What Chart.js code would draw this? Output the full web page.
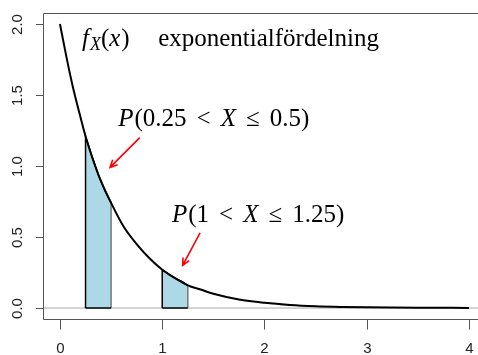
<!DOCTYPE html>
<html>
<head>
<meta charset="utf-8">
<script src="https://cdn.jsdelivr.net/npm/chart.js@4/dist/chart.umd.min.js"></script>
<style>
  html, body { margin: 0; padding: 0; background: #fff; overflow: hidden; }
  canvas { display: block; }
</style>
</head>
<body>
<canvas id="c" width="478" height="355"></canvas>
<script>
// density curve
const curveX = [0, 0.0625, 0.125, 0.1875, 0.25, 0.375, 0.5, 0.625, 0.75, 0.875, 1.0, 1.125, 1.25, 1.375, 1.5, 1.75, 2.0, 2.25, 2.5, 2.75, 3.0, 3.5, 4.0];
const curveY = [2.00, 1.77, 1.56, 1.38, 1.21, 0.94, 0.74, 0.57, 0.45, 0.35, 0.27, 0.21, 0.16, 0.13, 0.10, 0.06, 0.037, 0.022, 0.013, 0.008, 0.005, 0.002, 0.001];

// shaded intervals
const band1X = [0.25, 0.3125, 0.375, 0.4375, 0.5];
const band1Y = [1.21, 1.07, 0.94, 0.83, 0.74];
const band2X = [1.0, 1.0625, 1.125, 1.1875, 1.25];
const band2Y = [0.27, 0.24, 0.21, 0.19, 0.16];

const xTicks = [0, 1, 2, 3, 4];
const yTicks = [0, 0.5, 1, 1.5, 2];
const yTickLabels = ["0.0", "0.5", "1.0", "1.5", "2.0"];

// visible part of the plot region (right edge is cut off in the picture)
const xRange = [-0.166, 4.088];
const yRange = [-0.08, 2.08];

// arrows [fromX, fromY, toX, toY] in data units
const arrows = [[0.78, 1.20, 0.49, 0.99], [1.37, 0.53, 1.20, 0.30]];

const pts = (xs, ys) => xs.map((x, i) => ({ x, y: ys[i] }));
const outline = (xs, ys) => [{ x: xs[0], y: 0 }, ...pts(xs, ys), { x: xs[xs.length - 1], y: 0 }, { x: xs[0], y: 0 }];

const SERIF = '"Liberation Serif", "DejaVu Serif", serif';

// parts: [text, italic, sizeFactor, dy, gapAfter]
function drawRich(ctx, x, y, size, parts) {
  ctx.save();
  ctx.fillStyle = "#000";
  ctx.textBaseline = "middle";
  ctx.textAlign = "left";
  let cx = x;
  parts.forEach(([t, it, sf, dy, gap]) => {
    ctx.font = (it ? "italic " : "") + Math.round(size * (sf || 1)) + "px " + SERIF;
    ctx.fillText(t, cx, y + (dy || 0));
    cx += ctx.measureText(t).width + (gap || 0);
  });
  ctx.restore();
}

const decor = {
  id: "decor",
  afterDraw(chart) {
    const { ctx, chartArea: a, scales } = chart;
    const xs = scales.x, ys = scales.y;
    const top = Math.round(a.top) + 0.5, bot = Math.round(a.bottom) + 0.5, left = Math.round(a.left) + 0.5;
    ctx.save();
    // box: top, left, bottom (right side is off the page)
    ctx.strokeStyle = "#555";
    ctx.lineWidth = 1;
    ctx.beginPath();
    ctx.moveTo(chart.width + 2, top);
    ctx.lineTo(left, top);
    ctx.lineTo(left, bot);
    ctx.lineTo(chart.width + 2, bot);
    ctx.stroke();
    // y ticks + labels
    ctx.fillStyle = "#222";
    ctx.font = '15px "Liberation Sans", Arial, sans-serif';
    yTicks.forEach((v, i) => {
      const py = Math.round(ys.getPixelForValue(v)) + 0.5;
      ctx.beginPath();
      ctx.moveTo(a.left - 7, py);
      ctx.lineTo(a.left, py);
      ctx.stroke();
      ctx.save();
      ctx.translate(a.left - 25, py);
      ctx.rotate(-Math.PI / 2);
      ctx.textAlign = "center";
      ctx.textBaseline = "middle";
      ctx.fillText(yTickLabels[i], 0, 0);
      ctx.restore();
    });
    // x ticks + labels
    ctx.textAlign = "center";
    ctx.textBaseline = "middle";
    xTicks.forEach(v => {
      const px = Math.round(xs.getPixelForValue(v)) + 0.5;
      ctx.beginPath();
      ctx.moveTo(px, bot);
      ctx.lineTo(px, bot + 10);
      ctx.stroke();
      ctx.fillText(String(v), px, a.bottom + 29);
    });
    // arrows
    ctx.strokeStyle = "#ff0000";
    ctx.lineWidth = 1.6;
    arrows.forEach(([x0, y0, x1, y1]) => {
      const p0 = [xs.getPixelForValue(x0), ys.getPixelForValue(y0)];
      const p1 = [xs.getPixelForValue(x1), ys.getPixelForValue(y1)];
      const ang = Math.atan2(p1[1] - p0[1], p1[0] - p0[0]);
      const L = 8;
      ctx.beginPath();
      ctx.moveTo(p0[0], p0[1]);
      ctx.lineTo(p1[0], p1[1]);
      ctx.moveTo(p1[0] - L * Math.cos(ang - 0.45), p1[1] - L * Math.sin(ang - 0.45));
      ctx.lineTo(p1[0], p1[1]);
      ctx.lineTo(p1[0] - L * Math.cos(ang + 0.45), p1[1] - L * Math.sin(ang + 0.45));
      ctx.stroke();
    });
    ctx.restore();

    // text annotations
    const X = v => xs.getPixelForValue(v), Y = v => ys.getPixelForValue(v);
    drawRich(ctx, X(0.215), Y(1.89), 25, [["f", true, 1, 0, 1], ["X", true, 0.72, 6, 0], ["(", false], ["x", true, 1, 0, 1], [")", false]]);
    drawRich(ctx, X(0.96), Y(1.89), 25, [["exponentialfördelning", false]]);
    drawRich(ctx, X(0.57), Y(1.33), 25, [["P", true, 1, 0, 1], ["(0.25", false, 1, 0, 10], ["<", false, 1, 0, 10], ["X", true, 1, 0, 10], ["≤", false, 1, 0, 10], ["0.5)", false]]);
    drawRich(ctx, X(1.095), Y(0.65), 25, [["P", true, 1, 0, 1], ["(1", false, 1, 0, 10], ["<", false, 1, 0, 10], ["X", true, 1, 0, 10], ["≤", false, 1, 0, 10], ["1.25)", false]]);
  }
};

new Chart(document.getElementById("c"), {
  type: "scatter",
  data: {
    datasets: [
      { data: pts(curveX, curveY), showLine: true, borderColor: "#000", borderWidth: 2, pointRadius: 0, cubicInterpolationMode: "monotone", order: 0 },
      { data: outline(band1X, band1Y), showLine: true, borderColor: "#000", borderWidth: 1.5, pointRadius: 0, tension: 0, order: 1,
        segment: { borderColor: c => c.p0DataIndex === band1X.length ? "#777" : "#000" } },
      { data: outline(band2X, band2Y), showLine: true, borderColor: "#000", borderWidth: 1.5, pointRadius: 0, tension: 0, order: 1,
        segment: { borderColor: c => c.p0DataIndex === band2X.length ? "#777" : "#000" } },
      { data: pts(band1X, band1Y), showLine: true, borderWidth: 0, pointRadius: 0, fill: "origin", backgroundColor: "#add8e6", order: 2 },
      { data: pts(band2X, band2Y), showLine: true, borderWidth: 0, pointRadius: 0, fill: "origin", backgroundColor: "#add8e6", order: 2 },
      { data: [{ x: xRange[0], y: 0 }, { x: xRange[1], y: 0 }], showLine: true, borderColor: "#a8a8a8", borderWidth: 1, pointRadius: 0, order: 3 }
    ]
  },
  options: {
    responsive: false,
    animation: false,
    devicePixelRatio: 1,
    layout: { padding: { left: 43, top: 12.6, right: 0, bottom: 35.6 } },
    plugins: { legend: { display: false }, tooltip: { enabled: false } },
    scales: {
      x: { type: "linear", min: xRange[0], max: xRange[1], display: false },
      y: { min: yRange[0], max: yRange[1], display: false }
    }
  },
  plugins: [decor]
});
</script>
</body>
</html>
